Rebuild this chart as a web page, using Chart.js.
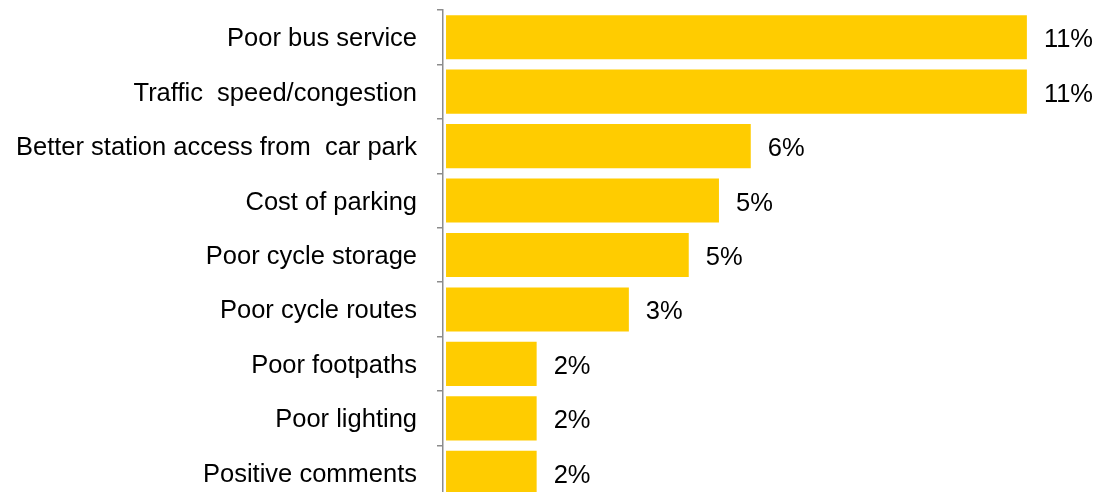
<!DOCTYPE html>
<html>
<head>
<meta charset="utf-8">
<script src="https://cdn.jsdelivr.net/npm/chart.js@4.4.1/dist/chart.umd.min.js"></script>
<style>
  html, body { margin: 0; padding: 0; background: #ffffff; overflow: hidden; }
  #wrap { width: 1104px; height: 500px; }
</style>
</head>
<body>
<div id="wrap"><canvas id="chart" width="1104" height="500"></canvas></div>
<script>
// Reasons given for station access problems (share of comments, %)
const categories = [
  'Poor bus service',
  'Traffic  speed/congestion',
  'Better station access from  car park',
  'Cost of parking',
  'Poor cycle storage',
  'Poor cycle routes',
  'Poor footpaths',
  'Poor lighting',
  'Positive comments'
];
const shares = [10.96, 10.96, 5.75, 5.15, 4.58, 3.45, 1.71, 1.71, 1.71];

const FONT = { family: '"Liberation Sans", Arial, sans-serif', size: 25.5 };

// Writes the rounded percentage just past the end of each bar
const valueLabels = {
  id: 'valueLabels',
  afterDatasetsDraw(chart) {
    const ctx = chart.ctx;
    const meta = chart.getDatasetMeta(0);
    ctx.save();
    ctx.font = FONT.size + 'px ' + FONT.family;
    ctx.fillStyle = '#000000';
    ctx.textAlign = 'left';
    ctx.textBaseline = 'middle';
    meta.data.forEach((bar, i) => {
      const v = chart.data.datasets[0].data[i];
      ctx.fillText(Math.round(v) + '%', bar.x + 17, bar.y + 3);
    });
    ctx.restore();
  }
};

new Chart(document.getElementById('chart'), {
  type: 'bar',
  data: {
    labels: categories,
    datasets: [{
      data: shares,
      backgroundColor: '#FFCC00',
      borderWidth: 0,
      categoryPercentage: 1.0,
      barPercentage: 0.81
    }]
  },
  options: {
    indexAxis: 'y',
    responsive: false,
    animation: false,
    devicePixelRatio: 1,
    layout: { padding: { top: 10, right: 22, bottom: 0, left: 0 } },
    plugins: {
      legend: { display: false },
      tooltip: { enabled: false }
    },
    scales: {
      x: {
        display: false,
        min: -0.057,
        max: 12
      },
      y: {
        afterFit(scale) {
          scale.width = 443;
          scale.paddingTop = 0;
          scale.paddingBottom = 0;
        },
        border: { display: true, color: '#8c8c8c', width: 1.5 },
        grid: {
          display: true,
          drawOnChartArea: false,
          drawTicks: true,
          tickLength: 6,
          color: '#8c8c8c',
          lineWidth: 1.5,
          offset: true
        },
        ticks: {
          color: '#000000',
          font: FONT,
          padding: 20,
          labelOffset: 2,
          autoSkip: false
        }
      }
    }
  },
  plugins: [valueLabels]
});
</script>
</body>
</html>
